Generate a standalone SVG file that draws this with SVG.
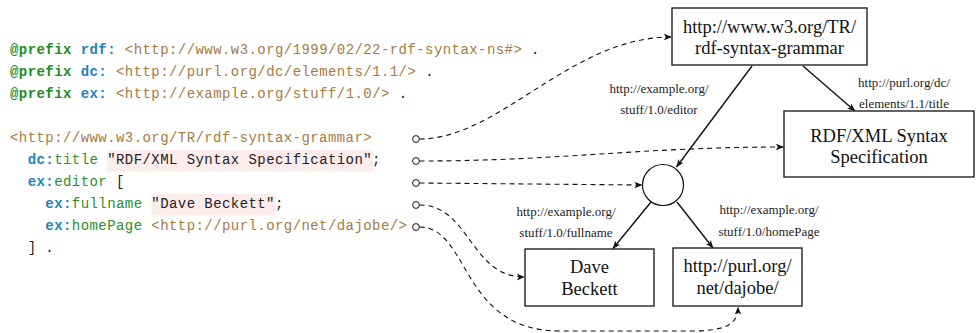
<svg xmlns="http://www.w3.org/2000/svg" width="976" height="333" viewBox="0 0 976 333">
<defs>
<style>
.code{font-family:"Liberation Mono","DejaVu Sans Mono",monospace;font-size:14px;letter-spacing:0.43px;white-space:pre;fill:#222}
.kw{fill:#1e8c1e;font-weight:bold}
.pf{fill:#2283bb;font-weight:bold}
.ln{fill:#2a8f2a}
.iri{fill:#a87a45}
.hl{fill:#fdecec}
.port{fill:#fff;stroke:#111;stroke-width:1}
.box{fill:#fff;stroke:#111;stroke-width:1.3}
.nt{font-family:"Liberation Serif","Times New Roman",serif;font-size:18.5px;fill:#111;text-anchor:middle}
.el{font-family:"Liberation Serif","Times New Roman",serif;font-size:13px;fill:#222;text-anchor:middle}
.edge{fill:none;stroke:#111;stroke-width:1.4;marker-end:url(#arr)}
.dash{fill:none;stroke:#111;stroke-width:1.1;stroke-dasharray:5 4;marker-end:url(#arr)}
</style>
<marker id="arr" viewBox="0 0 10 10" refX="9.5" refY="5" markerWidth="8" markerHeight="8" orient="auto" markerUnits="userSpaceOnUse">
<path d="M0,1 L10,5 L0,9 L2.5,5 z" fill="#111"/>
</marker>
</defs>
<rect width="976" height="333" fill="#fff"/>

<g id="code">
<rect class="hl" x="107" y="150" width="266" height="21.5"/>
<rect class="hl" x="151.5" y="194" width="124" height="21.5"/>
<text class="code" x="10" y="54"><tspan class="kw">@prefix</tspan> <tspan class="pf">rdf:</tspan> <tspan class="iri">&lt;http://www.w3.org/1999/02/22-rdf-syntax-ns#&gt;</tspan> .</text>
<text class="code" x="10" y="76"><tspan class="kw">@prefix</tspan> <tspan class="pf">dc:</tspan> <tspan class="iri">&lt;http://purl.org/dc/elements/1.1/&gt;</tspan> .</text>
<text class="code" x="10" y="98"><tspan class="kw">@prefix</tspan> <tspan class="pf">ex:</tspan> <tspan class="iri">&lt;http://example.org/stuff/1.0/&gt;</tspan> .</text>
<text class="code" x="10" y="142"><tspan class="iri">&lt;http://www.w3.org/TR/rdf-syntax-grammar&gt;</tspan></text>
<text class="code" x="10" y="164">  <tspan class="pf">dc:</tspan><tspan class="ln">title</tspan> "RDF/XML Syntax Specification";</text>
<text class="code" x="10" y="186">  <tspan class="pf">ex:</tspan><tspan class="ln">editor</tspan> [</text>
<text class="code" x="10" y="208">    <tspan class="pf">ex:</tspan><tspan class="ln">fullname</tspan> "Dave Beckett";</text>
<text class="code" x="10" y="230">    <tspan class="pf">ex:</tspan><tspan class="ln">homePage</tspan> <tspan class="iri">&lt;http://purl.org/net/dajobe/&gt;</tspan></text>
<text class="code" x="10" y="252">  ] .</text>
</g>

<g id="connectors">
<path class="dash" d="M419.5,139 C500,139 570,37 671.5,37"/>
<path class="dash" d="M419.5,161 C560,161 640,147 783.5,147"/>
<path class="dash" d="M419.5,183 L642,185"/>
<path class="dash" d="M419.5,205 C470,205 470,277 524.5,277"/>
<path class="dash" d="M419.5,227 C470,227 460,331 560,331 L690,331 C725,331 738,325 738,307"/>
<path class="edge" d="M752,66 L676.5,167"/>
<path class="edge" d="M803,66 L855,111"/>
<path class="edge" d="M651,202 L613,248.5"/>
<path class="edge" d="M677,202 L713,248"/>
</g>

<g id="ports">
<circle class="port" cx="416" cy="139" r="3.4"/>
<circle class="port" cx="416" cy="161" r="3.4"/>
<circle class="port" cx="416" cy="183" r="3.4"/>
<circle class="port" cx="416" cy="205" r="3.4"/>
<circle class="port" cx="416" cy="227" r="3.4"/>
</g>

<g id="node-grammar">
<rect class="box" x="672" y="8" width="195" height="57"/>
<text class="nt" x="769.5" y="32.5">http://www.w3.org/TR/</text>
<text class="nt" x="769.5" y="53.5">rdf-syntax-grammar</text>
</g>

<g id="node-title">
<rect class="box" x="784" y="111" width="190" height="66"/>
<text class="nt" x="879" y="142">RDF/XML Syntax</text>
<text class="nt" x="879" y="163">Specification</text>
</g>

<g id="node-blank">
<circle cx="663" cy="185" r="20.5" fill="#fff" stroke="#111" stroke-width="1.2"/>
</g>

<g id="node-dave">
<rect class="box" x="525" y="249" width="129" height="57"/>
<text class="nt" x="589.5" y="272.5">Dave</text>
<text class="nt" x="589.5" y="294.5">Beckett</text>
</g>

<g id="node-purl">
<rect class="box" x="673" y="248" width="129" height="58"/>
<text class="nt" x="737.5" y="272">http://purl.org/</text>
<text class="nt" x="737.5" y="293.5">net/dajobe/</text>
</g>

<g id="edge-labels">
<text class="el" x="659" y="92.5">http://example.org/</text>
<text class="el" x="659" y="114">stuff/1.0/editor</text>
<text class="el" x="904" y="86.5">http://purl.org/dc/</text>
<text class="el" x="904" y="108">elements/1.1/title</text>
<text class="el" x="566" y="215.5">http://example.org/</text>
<text class="el" x="566" y="236.5">stuff/1.0/fullname</text>
<text class="el" x="769" y="213.5">http://example.org/</text>
<text class="el" x="769" y="235.5">stuff/1.0/homePage</text>
</g>
</svg>
